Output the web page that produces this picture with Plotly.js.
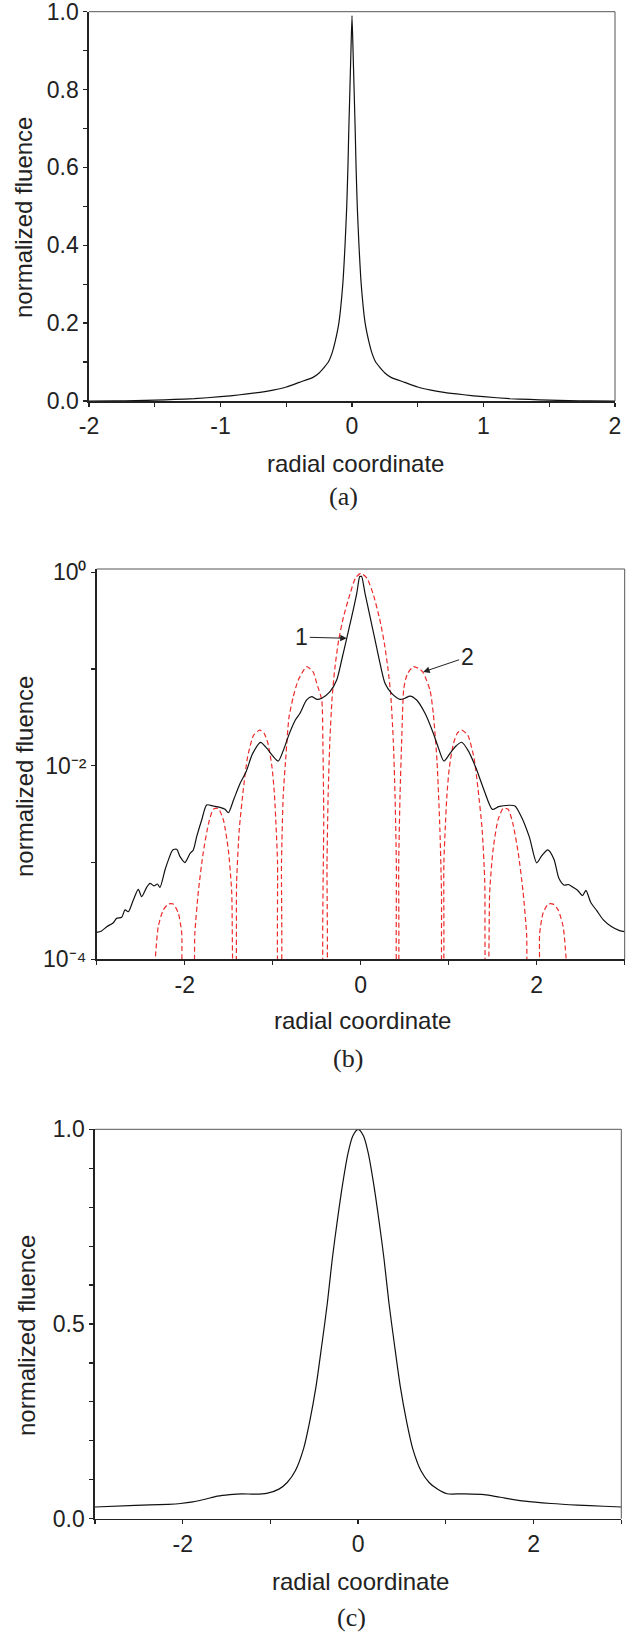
<!DOCTYPE html>
<html>
<head>
<meta charset="utf-8">
<script src="https://cdn.plot.ly/plotly-3.0.1.min.js"></script>
<style>html,body{margin:0;padding:0;background:#fff;}#chart{width:643px;height:1632px;}</style>
</head>
<body>
<div id="chart"></div>
<script>
// ---------- Panel (a) ----------
const xA = [-2.0,-1.8,-1.65,-1.5,-1.35,-1.2,-1.0,-0.85,-0.7,-0.6,-0.5,-0.4,-0.3,-0.25,-0.21,-0.18,-0.15,-0.13,-0.1,-0.07,-0.053,-0.04,-0.031,-0.024,-0.016,-0.008,0,
            0.008,0.016,0.024,0.031,0.04,0.053,0.07,0.1,0.13,0.15,0.18,0.21,0.25,0.3,0.4,0.5,0.6,0.7,0.85,1.0,1.2,1.35,1.5,1.65,1.8,2.0];
const yA = [0,0.0003,0.001,0.002,0.004,0.006,0.011,0.016,0.022,0.028,0.036,0.048,0.06,0.072,0.087,0.1,0.125,0.15,0.2,0.3,0.4,0.5,0.6,0.7,0.8,0.9,0.99,
            0.9,0.8,0.7,0.6,0.5,0.4,0.3,0.2,0.15,0.125,0.1,0.087,0.072,0.06,0.048,0.036,0.028,0.022,0.016,0.011,0.006,0.004,0.002,0.001,0.0003,0];

// ---------- Panel (b) curve 1 (solid) ----------
const xB1 = [-3.0,-2.95,-2.886,-2.811,-2.773,-2.716,-2.678,-2.641,-2.584,-2.527,-2.489,-2.432,-2.394,-2.349,-2.311,-2.281,-2.224,-2.186,-2.136,-2.091,-2.053,-1.997,-1.94,-1.902,-1.864,-1.807,-1.75,-1.675,-1.599,-1.542,-1.504,
             -1.441,-1.371,-1.301,-1.231,-1.138,-1.068,-0.998,-0.937,-0.881,-0.811,-0.741,-0.69,-0.614,-0.557,-0.5,-0.443,-0.349,-0.273,-0.216,-0.159,-0.102,-0.045,-0.01,0,
             0.01,0.049,0.106,0.163,0.219,0.276,0.352,0.447,0.503,0.56,0.636,0.731,0.825,0.881,0.946,1.021,1.086,1.147,1.226,1.31,1.403,1.497,1.566,1.683,1.753,1.823,1.916,
             2.0,2.056,2.126,2.196,2.252,2.312,2.359,2.406,2.466,2.522,2.559,2.615,2.685,2.755,2.848,2.942,3.0];
const yB1 = [1.9e-4,1.95e-4,2.17e-4,2.39e-4,2.65e-4,2.72e-4,3.24e-4,3.1e-4,4.1e-4,5.28e-4,4.44e-4,5.55e-4,6.1e-4,5.73e-4,6.0e-4,5.55e-4,8.38e-4,1.06e-3,1.35e-3,1.37e-3,1.15e-3,1.0e-3,1.24e-3,1.35e-3,1.85e-3,2.75e-3,3.94e-3,3.84e-3,3.72e-3,3.55e-3,3.27e-3,
             4.53e-3,6.56e-3,8.73e-3,1.32e-2,1.75e-2,1.52e-2,1.26e-2,1.12e-2,1.43e-2,2.15e-2,2.99e-2,3.49e-2,4.79e-2,5.18e-2,4.86e-2,4.99e-2,5.83e-2,7.71e-2,0.124,0.208,0.348,0.607,0.91,0.905,
             0.91,0.607,0.348,0.2,0.115,0.0713,0.0561,0.0486,0.0499,0.0526,0.0479,0.0349,0.0217,0.0155,0.0112,0.0137,0.0161,0.0175,0.0141,0.00948,0.00556,0.00354,0.00378,0.00391,0.00385,0.00301,0.00184,
             9.93e-4,1.17e-3,1.35e-3,1.08e-3,6.87e-4,5.83e-4,5.93e-4,5.6e-4,5.15e-4,4.56e-4,5.15e-4,3.87e-4,3.16e-4,2.57e-4,2.18e-4,1.98e-4,1.93e-4];

// ---------- Panel (b) curve 2 (dashed) ----------
const xB2 = [-2.357,-2.3,-2.243,-2.186,-2.13,-2.073,-2.034,-2.01,
             -1.915,-1.885,-1.845,-1.79,-1.73,-1.675,-1.62,-1.56,-1.504,-1.466,-1.44,
             -1.427,-1.41,-1.38,-1.333,-1.287,-1.217,-1.147,-1.1,-1.054,-1.007,-0.98,-0.96,-0.945,-0.93,
             -0.912,-0.9,-0.88,-0.85,-0.815,-0.766,-0.709,-0.614,-0.54,-0.5,-0.443,-0.43,-0.42,-0.415,
             -0.395,-0.383,-0.37,-0.35,-0.325,-0.295,-0.25,-0.195,-0.12,-0.06,0,0.07,0.14,0.215,0.27,0.31,0.34,0.37,0.39,0.405,0.415,
             0.423,0.432,0.447,0.466,0.49,0.53,0.6,0.67,0.712,0.788,0.825,0.867,0.9,0.918,0.928,
             0.935,0.945,0.96,0.98,1.007,1.054,1.1,1.147,1.217,1.287,1.333,1.38,1.41,1.427,
             1.44,1.466,1.504,1.56,1.62,1.675,1.73,1.79,1.845,1.885,1.915,
             2.01,2.034,2.073,2.13,2.186,2.243,2.3,2.357];
const yB2 = [5e-5,2.19e-4,3.24e-4,3.72e-4,3.72e-4,3.02e-4,1.86e-4,5e-5,
             5e-5,1.86e-4,5.0e-4,1.26e-3,2.51e-3,3.55e-3,3.63e-3,2.75e-3,1.35e-3,5.0e-4,5e-5,
             5e-5,6.31e-4,2.19e-3,5.79e-3,0.0121,0.0207,0.0234,0.0219,0.017,0.00955,0.00501,0.00219,0.001,5e-5,
             5e-5,0.001,0.00501,0.0126,0.0316,0.0519,0.0771,0.106,0.0933,0.0713,0.0479,0.0178,0.00316,5e-5,
             5e-5,0.001,0.00501,0.0186,0.0501,0.1,0.2,0.347,0.603,0.871,0.977,0.871,0.603,0.331,0.182,0.1,0.0562,0.0186,0.00501,0.001,5e-5,
             5e-5,0.001,0.00501,0.0186,0.0631,0.0891,0.106,0.1,0.0912,0.0603,0.0347,0.0112,0.00219,5.0e-4,5e-5,
             5e-5,0.001,0.00219,0.00501,0.00955,0.017,0.0219,0.0234,0.0207,0.0121,0.00579,0.00219,6.31e-4,5e-5,
             5e-5,5.0e-4,1.35e-3,2.75e-3,3.63e-3,3.55e-3,2.51e-3,1.26e-3,5.0e-4,1.86e-4,5e-5,
             5e-5,1.86e-4,3.02e-4,3.72e-4,3.72e-4,3.24e-4,2.19e-4,5e-5];

// ---------- Panel (c) ----------
const xC = [-3.0,-2.54,-2.166,-2.026,-1.886,-1.745,-1.605,-1.464,-1.324,-1.184,-1.043,-0.903,-0.809,-0.716,-0.622,-0.552,-0.482,-0.412,-0.351,-0.295,-0.239,-0.178,-0.117,-0.061,0,
            0.061,0.117,0.178,0.239,0.295,0.351,0.412,0.482,0.552,0.622,0.716,0.809,0.903,1.015,1.2,1.436,1.62,1.9,2.2,2.5,2.8,3.0];
const yC = [0.030,0.034,0.037,0.039,0.043,0.050,0.058,0.062,0.064,0.063,0.065,0.076,0.093,0.123,0.18,0.25,0.337,0.45,0.554,0.667,0.763,0.858,0.937,0.983,1.0,
            0.983,0.937,0.858,0.763,0.667,0.554,0.45,0.337,0.25,0.18,0.123,0.093,0.076,0.064,0.064,0.062,0.055,0.045,0.039,0.035,0.032,0.030];

// ---------- Tick labels ----------
const xTickValsA = [-2,-1,0,1,2];
const xTickTextA = ['-2','-1','0','1','2'];
const yTickValsA = [0,0.2,0.4,0.6,0.8,1.0];
const yTickTextA = ['0.0','0.2','0.4','0.6','0.8','1.0'];
const xTickValsBC = [-2,0,2];
const xTickTextBC = ['-2','0','2'];
const yTickValsB = [1e-4,1e-2,1];
const yTickTextB = ['10\u207B\u2074','10\u207B\u00B2','10\u2070'];
const yTickValsC = [0,0.5,1.0];
const yTickTextC = ['0.0','0.5','1.0'];

const W = 643, H = 1632;
const SANS = 'Arial, "Liberation Sans", Helvetica, sans-serif';
const SERIF = '"Times New Roman", "Liberation Serif", serif';
const INK = '#222';
const px = (a,b) => [a/W, b/W];
const py = (top,bottom) => [1-bottom/H, 1-top/H];

function axis(extra){
  return Object.assign({
    showline:true, linecolor:INK, linewidth:1.6, mirror:false,
    ticks:'outside', ticklen:4, tickwidth:1.4, tickcolor:INK,
    showgrid:false, zeroline:false, fixedrange:true, ticklabeloverflow:'allow',
    tickfont:{family:SANS, size:23, color:INK}
  }, extra);
}
function minor(vals){
  return {tickmode:'array', tickvals:vals, ticks:'outside', ticklen:4, tickwidth:1.2, tickcolor:INK, showgrid:false};
}

const traces = [
  {x:xA, y:yA, xaxis:'x', yaxis:'y', mode:'lines', line:{color:'#111', width:1.2, shape:'spline', smoothing:0.5}, hoverinfo:'skip'},
  {x:xB2, y:yB2, xaxis:'x2', yaxis:'y2', mode:'lines', line:{color:'#ee2a2a', width:1.2, dash:'5px,3px', shape:'spline', smoothing:0.6}, hoverinfo:'skip'},
  {x:xB1, y:yB1, xaxis:'x2', yaxis:'y2', mode:'lines', line:{color:'#111', width:1.2, shape:'spline', smoothing:0.7}, hoverinfo:'skip'},
  {x:xC, y:yC, xaxis:'x3', yaxis:'y3', mode:'lines', line:{color:'#111', width:1.2, shape:'spline', smoothing:0.8}, hoverinfo:'skip'}
];

function box(xr, yr){
  return [
    {type:'line', xref:xr+' domain', yref:yr+' domain', x0:0, x1:1, y0:1, y1:1, line:{color:'#555', width:1}},
    {type:'line', xref:xr+' domain', yref:yr+' domain', x0:1, x1:1, y0:0, y1:1, line:{color:'#555', width:1}}
  ];
}

function txt(text, x, y, size, font, angle){
  return {text:text, xref:'paper', yref:'paper', x:x/W, y:1-y/H, showarrow:false,
          xanchor:'center', yanchor:'middle', textangle:angle||0,
          font:{family:font, size:size, color:INK}};
}

const layout = {
  width:W, height:H, margin:{l:0,r:0,t:0,b:0}, showlegend:false,
  paper_bgcolor:'#fff', plot_bgcolor:'#fff',
  xaxis: axis({domain:px(89,615), range:[-2,2], tickmode:'array', tickvals:xTickValsA, ticktext:xTickTextA, anchor:'y',
               minor:minor([-1.5,-0.5,0.5,1.5])}),
  yaxis: axis({domain:py(11.7,401), range:[0,1], tickmode:'array', tickvals:yTickValsA, ticktext:yTickTextA, anchor:'x',
               minor:minor([0.1,0.3,0.5,0.7,0.9])}),
  xaxis2: axis({domain:px(96.7,624.7), range:[-3,3], tickmode:'array', tickvals:xTickValsBC, ticktext:xTickTextBC, anchor:'y2',
               minor:minor([-3,-1,1,3])}),
  yaxis2: axis({domain:py(569,959.3), type:'log', range:[-4,0.034], tickmode:'array', tickvals:yTickValsB, ticktext:yTickTextB, anchor:'x2',
               minor:minor([1e-3,1e-1])}),
  xaxis3: axis({domain:px(95,621.3), range:[-3,3], tickmode:'array', tickvals:xTickValsBC, ticktext:xTickTextBC, anchor:'y3',
               minor:minor([-3,-1,1,3])}),
  yaxis3: axis({domain:py(1129.3,1518.7), range:[0,1], tickmode:'array', tickvals:yTickValsC, ticktext:yTickTextC, anchor:'x3',
               minor:minor([0.1,0.2,0.3,0.4,0.6,0.7,0.8,0.9])}),
  shapes: [].concat(box('x','y'), box('x2','y2'), box('x3','y3')),
  annotations: [
    txt('normalized fluence', 24, 218, 24, SANS, -90),
    txt('radial coordinate', 355, 463, 24, SANS),
    txt('(a)', 343, 497, 26, SERIF),
    txt('normalized fluence', 24, 777, 24, SANS, -90),
    txt('radial coordinate', 362, 1020, 24, SANS),
    txt('(b)', 348, 1058, 26, SERIF),
    txt('normalized fluence', 26, 1336, 24, SANS, -90),
    txt('radial coordinate', 360, 1581, 24, SANS),
    txt('(c)', 351, 1617, 26, SERIF),
    {text:'1', xref:'x2', yref:'y2', x:-0.159, y:-0.682, axref:'x2', ayref:'y2', ax:-0.67, ay:-0.67,
     showarrow:true, arrowhead:2, arrowsize:1.3, arrowwidth:1, arrowcolor:INK, standoff:0,
     font:{family:SANS, size:23, color:INK}},
    {text:'2', xref:'x2', yref:'y2', x:0.71, y:-1.03, axref:'x2', ayref:'y2', ax:1.21, ay:-0.876,
     showarrow:true, arrowhead:2, arrowsize:1.3, arrowwidth:1, arrowcolor:INK, standoff:0,
     font:{family:SANS, size:23, color:INK}}
  ]
};

Plotly.newPlot('chart', traces, layout, {staticPlot:true, displayModeBar:false});
</script>
</body>
</html>
